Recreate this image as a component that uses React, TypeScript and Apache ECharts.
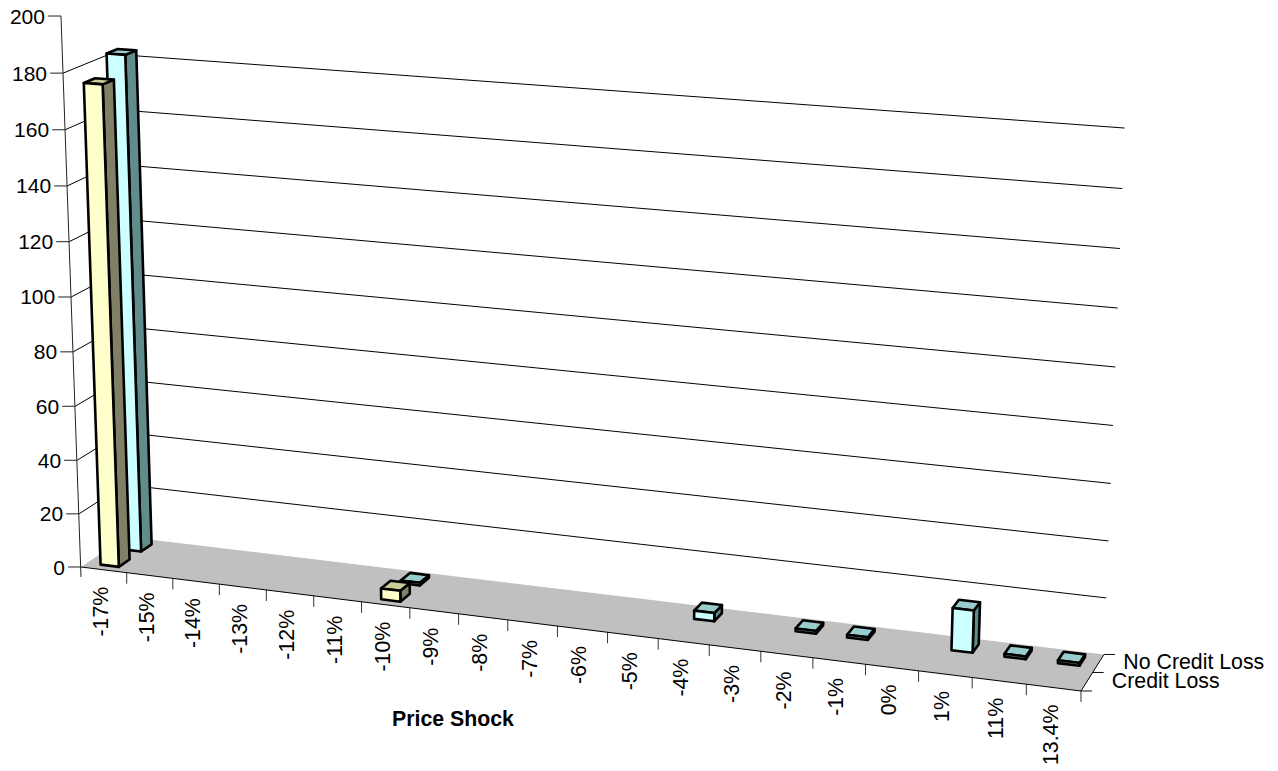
import React, { useEffect, useRef } from "react";
import * as echarts from "echarts";

const categories = ["-17%", "-15%", "-14%", "-13%", "-12%", "-11%", "-10%", "-9%", "-8%", "-7%", "-6%", "-5%", "-4%", "-3%", "-2%", "-1%", "0%", "1%", "11%", "13.4%"];
const creditLoss = [176, null, null, null, null, null, 4, null, null, null, null, null, null, null, null, null, null, null, null, null];
const noCreditLoss = [183, null, null, null, null, null, 1, null, null, null, null, null, 3, null, 1, 1, null, 15, 1, 1];
const valueTicks = [0, 20, 40, 60, 80, 100, 120, 140, 160, 180, 200];
const depthLabels = ["Credit Loss", "No Credit Loss"];

const FONT = '"Liberation Sans", Arial, sans-serif';
const FONT_SIZE = 21.3;

// Camera model: u runs along the categories, d into the depth, v up the value axis (all 0..1).
function project(u: number, d: number, v: number): [number, number] {
  const w = 1 - 0.09 * u + 0.0245 * d - 0.039 * v;
  return [
    (81 + 902.7 * u + 48 * d - 22.4 * v) / w,
    (567 + 61.8 * u - 17.2 * d - 551.6 * v) / w,
  ];
}

// Converts a data position into the normalised plot box via the hidden grid's scales.
function toBox(api: any, cat: number, value: number): [number, number] {
  const [px, py] = api.coord([cat, value]);
  return [px / api.getWidth(), 1 - py / api.getHeight()];
}

const line = (a: number[], b: number[], stroke = "#000", lineWidth = 1) => ({
  type: "line",
  shape: { x1: a[0], y1: a[1], x2: b[0], y2: b[1] },
  style: { stroke, lineWidth },
});

const label = (text: string, x: number, y: number, align: string, rotation = 0, fontSize = FONT_SIZE) => ({
  type: "text",
  x,
  y,
  rotation,
  style: { text, align, verticalAlign: "middle", fill: "#000", fontSize, fontFamily: FONT },
});

function floorItem() {
  return {
    type: "polygon",
    shape: { points: [project(0, 0, 0), project(1, 0, 0), project(1, 1, 0), project(0, 1, 0)] },
    style: { fill: "#c0c0c0", stroke: "none" },
  };
}

function renderValueTick(_: any, api: any) {
  const value = api.value(0);
  const [, v] = toBox(api, 0, value);
  const front = project(0, 0, v);
  const children: any[] = [
    line([front[0] - 13, front[1]], front, "#222"),
    label(String(value), front[0] - 16, front[1], "right", 0, 21),
  ];
  if (value > 0) {
    // The topmost gridline is barely visible against the white walls.
    const stroke = value < 200 ? "#000" : "#fcfcfc";
    const corner = project(0, 1, v);
    children.push(line(front, corner, stroke), line(corner, project(1, 1, v), stroke));
  }
  return { type: "group", children };
}

function renderCategoryTick(_: any, api: any) {
  const idx = api.value(0);
  const half = api.size([1, 0])[0] / 2 / api.getWidth();
  const [uc] = toBox(api, idx, 0);
  const end = project(uc + half, 0, 0);
  const mid = project(uc, 0, 0);
  return {
    type: "group",
    children: [
      line(end, [end[0], end[1] + 11], "#333"),
      label(categories[idx], mid[0] - 3, mid[1] + 17, "right", Math.PI / 2),
    ],
  };
}

function renderFrame() {
  const origin = project(0, 0, 0);
  const top = project(0, 0, 1);
  const frontRight = project(1, 0, 0);
  const backRight = project(1, 1, 0);
  const children: any[] = [
    line(top, [origin[0], origin[1] + 10], "#222"),
    line(origin, frontRight),
    line(frontRight, backRight),
  ];
  depthLabels.forEach((name, i) => {
    const d = i / depthLabels.length;
    const p = project(1, d, 0);
    children.push(line(p, [p[0] + 11, p[1]], "#111"));
    const m = project(1, d + 0.5 / depthLabels.length, 0);
    children.push(label(name, m[0] + 25, m[1] - 1, "left"));
  });
  const end = project(1, 1, 0);
  children.push(line(end, [end[0] + 11, end[1]], "#111"));
  return { type: "group", children };
}

function barRenderer(slot: number, front: string, side: string, topFace: string) {
  return (_: any, api: any) => {
    const cat = api.value(0);
    const value = api.value(1);
    const band = api.size([1, 0])[0] / api.getWidth();
    const [uc, v] = toBox(api, cat, value);
    const u0 = uc - band * 0.2;
    const u1 = uc + band * 0.2;
    const d0 = (slot + 0.26) / 2;
    const d1 = (slot + 0.74) / 2;
    const face = (points: number[][], fill: string) => ({
      type: "polygon",
      shape: { points },
      style: { fill, stroke: "#000", lineWidth: 2.6, lineJoin: "round" },
    });
    return {
      type: "group",
      children: [
        face([project(u1, d0, 0), project(u1, d1, 0), project(u1, d1, v), project(u1, d0, v)], side),
        face([project(u0, d0, v), project(u1, d0, v), project(u1, d1, v), project(u0, d1, v)], topFace),
        face([project(u0, d0, 0), project(u1, d0, 0), project(u1, d0, v), project(u0, d0, v)], front),
      ],
    };
  };
}

const barData = (values: (number | null)[]) =>
  values.flatMap((v, i) => (v === null ? [] : [[i, v]]));

export default function App() {
  const ref = useRef<HTMLDivElement>(null);
  useEffect(() => {
    const chart = echarts.init(ref.current!, undefined, { renderer: "svg" });
    chart.setOption({
      animation: false,
      backgroundColor: "#fff",
      title: {
        text: "Price Shock",
        left: 392,
        top: 708,
        padding: 0,
        textStyle: { fontFamily: FONT, fontSize: FONT_SIZE, fontWeight: "bold", color: "#000" },
      },
      grid: { left: 0, right: 0, top: 0, bottom: 0 },
      xAxis: { type: "category", data: categories, show: false },
      yAxis: { type: "value", min: 0, max: 200, show: false },
      series: [
        { type: "custom", silent: true, clip: false, z: 1, data: [[0, 0]], renderItem: () => floorItem() },
        { type: "custom", silent: true, clip: false, z: 2, data: valueTicks.map((v) => [v]), encode: { x: -1, y: 0 }, renderItem: renderValueTick },
        { type: "custom", silent: true, clip: false, z: 2, data: categories.map((_, i) => [i]), encode: { x: 0, y: -1 }, renderItem: renderCategoryTick },
        { type: "custom", silent: true, clip: false, z: 2, data: [[0, 0]], renderItem: renderFrame },
        { type: "custom", name: "No Credit Loss", silent: true, clip: false, z: 3, data: barData(noCreditLoss), encode: { x: 0, y: 1 }, renderItem: barRenderer(1, "#ccffff", "#608c8c", "#99cccc") },
        { type: "custom", name: "Credit Loss", silent: true, clip: false, z: 4, data: barData(creditLoss), encode: { x: 0, y: 1 }, renderItem: barRenderer(0, "#ffffcc", "#808066", "#cccc99") },
      ],
    });
    return () => chart.dispose();
  }, []);
  return <div ref={ref} style={{ position: "fixed", left: 0, top: 0, width: 1278, height: 771 }} />;
}
